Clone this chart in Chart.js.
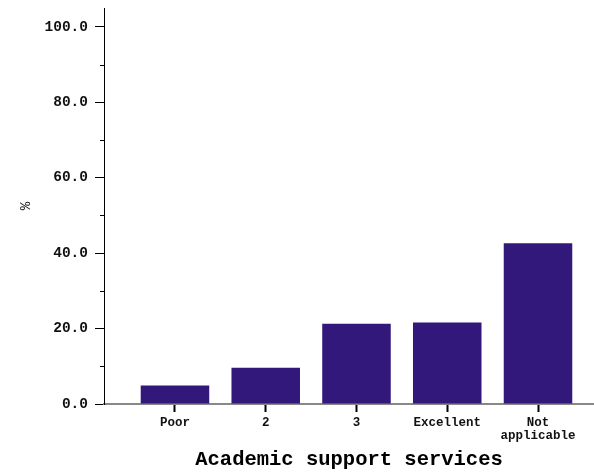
<!DOCTYPE html>
<html>
<head>
<meta charset="utf-8">
<script src="https://cdn.jsdelivr.net/npm/chart.js@4"></script>
<style>
  html, body { margin: 0; padding: 0; background: #fff; }
  #wrap { width: 594px; height: 476px; }
</style>
</head>
<body>
<div id="wrap"><canvas id="chart" width="594" height="476"></canvas></div>
<script>
// data
const categories = ['Poor', '2', '3', 'Excellent', ['Not', 'applicable']];
const percents = [4.9, 9.6, 21.3, 21.6, 42.6];
const yTicks = [0, 20, 40, 60, 80, 100];
const yMinorTicks = [10, 30, 50, 70, 90];
const yMax = 105;
const xMin = -0.782;
const xMax = 4.617;

const barColor = '#31187a';
const mono = "'Liberation Mono', 'Courier New', monospace";

// short minor ticks on the y axis
const minorTicks = {
  id: 'minorTicks',
  afterDraw(chart) {
    const y = chart.scales.y;
    const ctx = chart.ctx;
    ctx.save();
    ctx.strokeStyle = '#000';
    ctx.lineWidth = 1;
    yMinorTicks.forEach(v => {
      const py = Math.round(y.getPixelForValue(v)) + 0.5;
      ctx.beginPath();
      ctx.moveTo(y.right - 4, py);
      ctx.lineTo(y.right, py);
      ctx.stroke();
    });
    ctx.restore();
  }
};

new Chart(document.getElementById('chart'), {
  type: 'bar',
  data: {
    datasets: [{
      data: percents.map((v, i) => ({ x: i, y: v })),
      backgroundColor: barColor,
      borderWidth: 0,
      categoryPercentage: 1,
      barPercentage: 0.755
    }]
  },
  options: {
    responsive: false,
    animation: false,
    devicePixelRatio: 1,
    layout: { padding: { top: 8, left: 0, right: 0, bottom: 0 } },
    plugins: { legend: { display: false }, tooltip: { enabled: false } },
    scales: {
      x: {
        type: 'linear',
        min: xMin,
        max: xMax,
        offset: false,
        afterBuildTicks: s => { s.ticks = categories.map((c, i) => ({ value: i })); },
        afterFit: s => { s.height = 72; s.paddingLeft = 0; s.paddingRight = 0; },
        grid: { offset: false, drawOnChartArea: false, drawTicks: true, tickLength: 8, tickColor: '#000', tickWidth: 2 },
        border: { color: '#888', width: 2 },
        ticks: {
          autoSkip: false,
          maxRotation: 0,
          padding: 5,
          color: '#111',
          font: { family: mono, size: 12.5, weight: 'bold', lineHeight: 1.0 },
          callback: v => categories[v]
        },
        title: {
          display: true,
          text: 'Academic support services',
          color: '#000',
          font: { family: mono, size: 20.5, weight: 'bold' },
          padding: { top: 0, bottom: 4 }
        }
      },
      y: {
        min: 0,
        max: yMax,
        afterBuildTicks: s => { s.ticks = yTicks.map(v => ({ value: v })); },
        afterFit: s => { s.width = 104; s.paddingTop = 0; s.paddingBottom = 0; },
        grid: { drawOnChartArea: false, drawTicks: true, tickLength: 9, tickColor: '#000', tickWidth: 1 },
        border: { color: '#000', width: 1 },
        ticks: {
          padding: 7,
          color: '#111',
          font: { family: mono, size: 14.5, weight: 'bold' },
          callback: v => v.toFixed(1)
        },
        title: {
          display: true,
          text: '%',
          color: '#111',
          font: { family: mono, size: 14 },
          padding: { top: 18, bottom: 0 }
        }
      }
    }
  },
  plugins: [minorTicks]
});
</script>
</body>
</html>
